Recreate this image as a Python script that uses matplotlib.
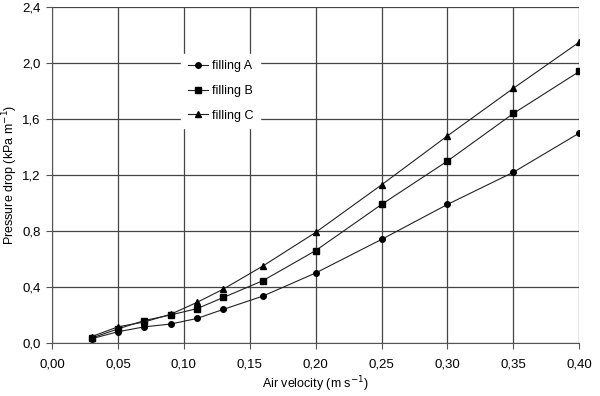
import matplotlib.pyplot as plt
import matplotlib.ticker as mticker

plt.rcParams['font.family'] = ['Liberation Sans', 'DejaVu Sans']

# air velocity (m/s)
velocity = [0.03, 0.05, 0.07, 0.09, 0.11, 0.13, 0.16, 0.20, 0.25, 0.30, 0.35, 0.40]
# pressure drop (kPa/m)
filling_A = [0.03, 0.08, 0.115, 0.135, 0.175, 0.24, 0.335, 0.50, 0.74, 0.99, 1.22, 1.50]
filling_B = [0.035, 0.10, 0.16, 0.20, 0.245, 0.325, 0.445, 0.66, 0.99, 1.30, 1.64, 1.94]
filling_C = [0.045, 0.115, 0.15, 0.205, 0.29, 0.385, 0.55, 0.79, 1.13, 1.48, 1.82, 2.15]

labels = ['filling A', 'filling B', 'filling C']
markers = ['o', 's', '^']

fig = plt.figure(figsize=(6, 3.96), dpi=100)
ax = fig.add_axes([0.0867, 0.134, 0.8788, 0.848])

for ys, lab, m in zip([filling_A, filling_B, filling_C], labels, markers):
    ax.plot(velocity, ys, color='#222222', lw=0.8, marker=m, ms=4,
            markerfacecolor='black', markeredgecolor='black', label=lab)

ax.set_xlim(0, 0.40)
ax.set_ylim(0, 2.4)
ax.set_xticks([i * 0.05 for i in range(9)])
ax.set_yticks([i * 0.4 for i in range(7)])
ax.xaxis.set_major_formatter(mticker.FuncFormatter(lambda v, p: f"{v:.2f}".replace('.', ',')))
ax.yaxis.set_major_formatter(mticker.FuncFormatter(lambda v, p: f"{v:.1f}".replace('.', ',')))
ax.tick_params(labelsize=9.5, length=4, width=0.8, color='#555555')
ax.tick_params(axis='x', pad=7)
ax.tick_params(axis='y', pad=4)
ax.grid(True, color='#444444', lw=0.9)
ax.set_axisbelow(True)
for s in ['top', 'right']:
    ax.spines[s].set_visible(False)
for s in ['left', 'bottom']:
    ax.spines[s].set_color('#555555')

ax.set_xlabel('Air velocity (m s$^{-1}$)', fontsize=9)
ax.set_ylabel('Pressure drop (kPa m$^{-1}$)', fontsize=9)
ax.xaxis.set_label_coords(0.5, -0.095)
ax.yaxis.set_label_coords(-0.061, 0.5)

leg = ax.legend(loc='upper left', bbox_to_anchor=(175 / 600, 1 - 48 / 396),
                bbox_transform=fig.transFigure, fontsize=9, handlelength=1.6,
                handletextpad=0.4, labelspacing=1.0, fancybox=False,
                framealpha=1, edgecolor='white', borderpad=0.5)

fig.savefig('out.png', dpi=100)
